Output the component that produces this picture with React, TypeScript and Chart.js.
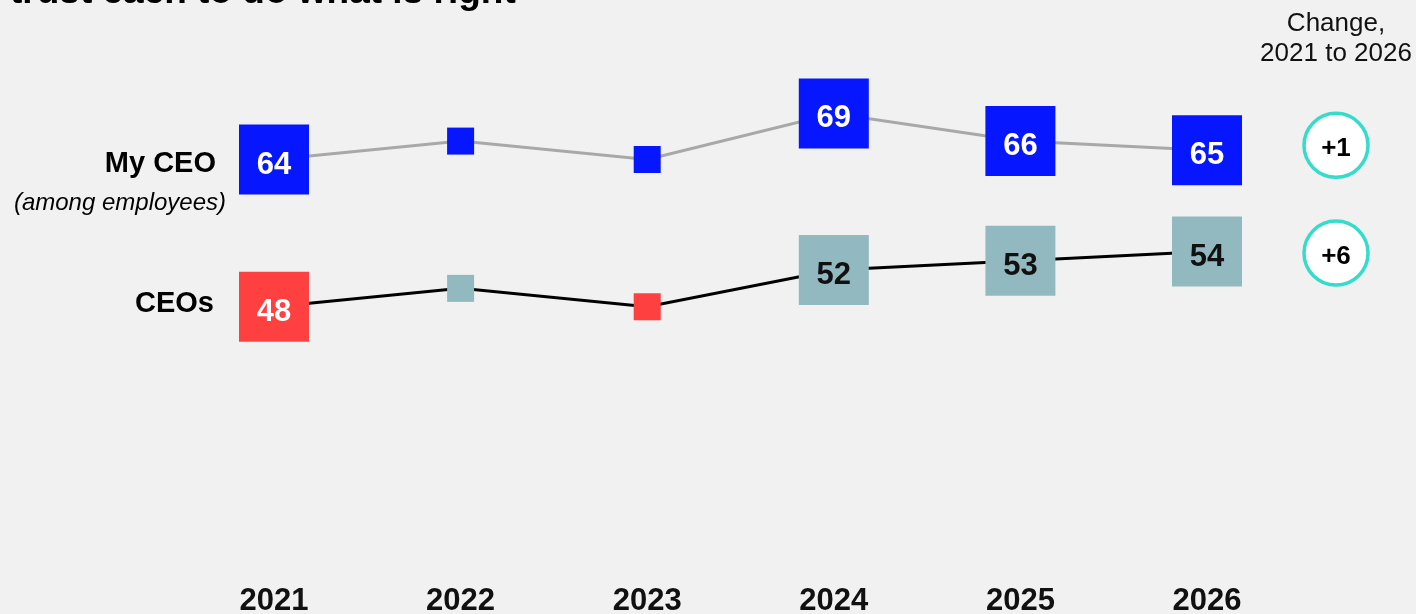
import React, { useEffect, useRef } from "react";
import { Chart, registerables } from "chart.js";

Chart.register(...registerables);

// ---- data ----
const years = ["2021", "2022", "2023", "2024", "2025", "2026"];
const myCeoValues = [64, 66, 64, 69, 66, 65];
const ceoValues = [48, 50, 48, 52, 53, 54];
const myCeoShowLabel = [true, false, false, true, true, true];
const ceoShowLabel = [true, false, false, true, true, true];
const myCeoColors = ["#0616ff", "#0616ff", "#0616ff", "#0616ff", "#0616ff", "#0616ff"];
const ceoColors = ["#ff4040", "#93b9c0", "#ff4040", "#93b9c0", "#93b9c0", "#93b9c0"];
const rowLabels = ["My CEO", "CEOs"];
const rowSubLabel = "(among employees)";
const changeValues = ["+1", "+6"];
const changeHeader = ["Change,", "2021 to 2026"];
const titleText = "trust each to do what is right";

const FONT = "'Liberation Sans', Arial, Helvetica, sans-serif";
const BIG_R = 49.5;
const SMALL_R = 19.1;

const overlayPlugin = {
  id: "overlay",
  afterDatasetsDraw(chart: any) {
    const ctx = chart.ctx;
    const x = chart.scales.x;
    const y = chart.scales.y;
    ctx.save();

    // title (cut off at top)
    ctx.fillStyle = "#000";
    ctx.font = `bold 37px ${FONT}`;
    ctx.textAlign = "left";
    ctx.textBaseline = "alphabetic";
    ctx.fillText(titleText, 10, 3);

    // value labels inside boxes
    const drawLabels = (vals: number[], show: boolean[], colors: string[]) => {
      ctx.font = `bold 31px ${FONT}`;
      ctx.textAlign = "center";
      ctx.textBaseline = "alphabetic";
      vals.forEach((v, i) => {
        if (!show[i]) return;
        const px = x.getPixelForValue(i);
        const py = y.getPixelForValue(v);
        ctx.fillStyle = colors[i] === "#93b9c0" ? "#111" : "#fff";
        ctx.fillText(String(v), px, py + 14);
      });
    };
    drawLabels(myCeoValues, myCeoShowLabel, myCeoColors);
    drawLabels(ceoValues, ceoShowLabel, ceoColors);

    // row labels
    const y0 = y.getPixelForValue(myCeoValues[0]);
    const y1 = y.getPixelForValue(ceoValues[0]);
    ctx.fillStyle = "#000";
    ctx.textAlign = "right";
    ctx.font = `bold 29px ${FONT}`;
    ctx.fillText(rowLabels[0], 216, y0 + 12.5);
    ctx.fillText(rowLabels[1], 214, y1 + 5);
    ctx.font = `italic 24px ${FONT}`;
    ctx.fillText(rowSubLabel, 226, y0 + 50);

    // change header
    ctx.fillStyle = "#111";
    ctx.textAlign = "center";
    ctx.font = `26px ${FONT}`;
    ctx.fillText(changeHeader[0], 1336, 30.5);
    ctx.fillText(changeHeader[1], 1336, 61);

    // change circles
    const last = years.length - 1;
    const cy = [
      y.getPixelForValue(myCeoValues[last]) - 5,
      y.getPixelForValue(ceoValues[last]) + 1.5,
    ];
    cy.forEach((c, i) => {
      ctx.beginPath();
      ctx.arc(1336, c, 32, 0, Math.PI * 2);
      ctx.fillStyle = "#fff";
      ctx.fill();
      ctx.lineWidth = 3.5;
      ctx.strokeStyle = "#35dccb";
      ctx.stroke();
      ctx.fillStyle = "#000";
      ctx.font = `bold 26px ${FONT}`;
      ctx.fillText(changeValues[i], 1336, c + 10.5);
    });

    ctx.restore();
  },
};

export default function App() {
  const ref = useRef<HTMLCanvasElement | null>(null);

  useEffect(() => {
    if (!ref.current) return;
    const chart = new Chart(ref.current, {
      type: "line",
      data: {
        labels: years,
        datasets: [
          {
            label: rowLabels[0],
            data: myCeoValues,
            borderColor: "#a8a8a8",
            borderWidth: 3,
            pointStyle: "rect",
            pointRadius: myCeoShowLabel.map((s) => (s ? BIG_R : SMALL_R)),
            pointBackgroundColor: myCeoColors,
            pointBorderWidth: 0,
            pointBorderColor: myCeoColors,
            clip: false as any,
          },
          {
            label: rowLabels[1],
            data: ceoValues,
            borderColor: "#000",
            borderWidth: 3,
            pointStyle: "rect",
            pointRadius: ceoShowLabel.map((s) => (s ? BIG_R : SMALL_R)),
            pointBackgroundColor: ceoColors,
            pointBorderWidth: 0,
            pointBorderColor: ceoColors,
            clip: false as any,
          },
        ],
      },
      options: {
        animation: false,
        responsive: false,
        devicePixelRatio: 1,
        events: [],
        layout: { padding: { left: 274, right: 209, top: 58.25, bottom: 0 } },
        plugins: {
          legend: { display: false },
          tooltip: { enabled: false },
          title: { display: false },
        },
        scales: {
          x: {
            type: "category",
            offset: false,
            grid: { display: false, drawTicks: false },
            border: { display: false },
            ticks: {
              color: "#111",
              font: { family: FONT, size: 31, weight: "bold" },
              padding: 18,
              maxRotation: 0,
              autoSkip: false,
            },
            afterFit: (scale: any) => {
              scale.height = 47;
            },
          },
          y: {
            display: false,
            min: 20,
            max: 75,
          },
        },
      },
      plugins: [overlayPlugin],
    });
    return () => chart.destroy();
  }, []);

  return (
    <div
      style={{
        position: "absolute",
        left: 0,
        top: 0,
        width: 1416,
        height: 614,
        background: "#f1f1f1",
        overflow: "hidden",
      }}
    >
      <canvas ref={ref} width={1416} height={614} style={{ display: "block" }} />
    </div>
  );
}
